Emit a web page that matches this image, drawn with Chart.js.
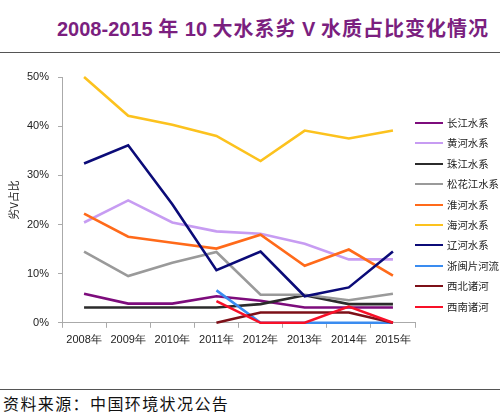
<!DOCTYPE html>
<html>
<head>
<meta charset="utf-8">
<script src="https://cdn.jsdelivr.net/npm/chart.js@4"></script>
<style>
  html, body { margin: 0; padding: 0; background: #fff; }
  body { width: 500px; height: 418px; position: relative; overflow: hidden; }
  #title {
    position: absolute; left: 57px; top: 15px; white-space: nowrap;
    font-family: "Liberation Sans", "Noto Sans CJK SC", sans-serif;
    font-weight: bold; font-size: 20px; line-height: 26px; color: #7b1f7f;
  }
  #title .cn { font-family: "Noto Sans CJK SC", sans-serif; letter-spacing: 1px; }
  #topline { position: absolute; left: 0; top: 52px; width: 500px; height: 1px; background: #555; }
  #chart-wrap { position: absolute; left: 0; top: 53px; width: 500px; height: 336px; }
  #bottomline { position: absolute; left: 0; top: 389px; width: 500px; height: 1px; background: #555; }
  #footer {
    position: absolute; left: 3px; top: 393px; white-space: nowrap;
    font-family: "Noto Sans CJK SC", sans-serif; font-size: 16px; line-height: 20px;
    letter-spacing: 1.4px; color: #111;
  }
  #legend { position: absolute; left: 415px; top: 0; }
  .item { position: absolute; left: 0; height: 14px; white-space: nowrap; }
  .item .sw { position: absolute; left: 0; top: 6px; width: 28px; height: 2px; }
  .item .tx {
    position: absolute; left: 32px; top: -1px;
    font-family: "Noto Sans CJK SC", sans-serif; font-size: 10.4px; line-height: 16px; color: #222;
  }
</style>
</head>
<body>
<div id="title">2008-2015 <span class="cn">年</span> 10 <span class="cn">大水系劣</span> V <span class="cn">水质占比变化情况</span></div>
<div id="topline"></div>
<div id="chart-wrap"><canvas id="chart" width="500" height="336"></canvas></div>
<div id="legend"></div>
<div id="bottomline"></div>
<div id="footer">资料来源：中国环境状况公告</div>
<script>
// categories
const years = ['2008年', '2009年', '2010年', '2011年', '2012年', '2013年', '2014年', '2015年'];

// share of grade V (worse than V) water, percent
const changjiang = [5.9, 3.9, 3.9, 5.4, 4.5, 3.1, 3.1, 3.1];
const huanghe = [20.4, 24.9, 20.4, 18.6, 18.1, 16.1, 12.9, 12.9];
const zhujiang = [3.1, 3.1, 3.1, 3.1, 3.8, 5.6, 3.8, 3.8];
const songhuajiang = [14.5, 9.5, 12.2, 14.4, 5.7, 5.7, 4.6, 5.9];
const huaihe = [22.2, 17.5, 16.3, 15.1, 17.9, 11.6, 14.9, 9.6];
const haihe = [50.0, 42.1, 40.3, 38.0, 32.9, 39.1, 37.5, 39.1];
const liaohe = [32.4, 36.1, 24.1, 10.7, 14.5, 5.4, 7.2, 14.5];
const zhemin = [null, null, null, 6.6, 0, 0, 0, 0];
const xibei = [null, null, null, 0, 2.1, 2.1, 2.1, 0];
const xinan = [null, null, null, 4.4, 0, 0, 3.3, 0];

// y axis ticks
const yTicks = [0, 10, 20, 30, 40, 50];

const seriesNames = ['长江水系', '黄河水系', '珠江水系', '松花江水系', '淮河水系', '海河水系', '辽河水系', '浙闽片河流', '西北诸河', '西南诸河'];
const seriesData = [changjiang, huanghe, zhujiang, songhuajiang, huaihe, haihe, liaohe, zhemin, xibei, xinan];
const seriesColors = ['#7d0c7c', '#c79cf2', '#2b2b2b', '#9a9a9a', '#ff6a1a', '#fcc21e', '#0b0b78', '#3a8cf0', '#7d1018', '#f81028'];

const datasets = seriesNames.map(function(name, i) {
    return {
        label: name,
        data: seriesData[i],
        borderColor: seriesColors[i],
        backgroundColor: seriesColors[i],
        borderWidth: 2.6,
        pointRadius: 0,
        tension: 0,
        clip: false,
        order: seriesNames.length - i
    };
});

// html legend, built from the same names/colours
const legendEl = document.getElementById('legend');
seriesNames.forEach(function(name, i) {
    const item = document.createElement('div');
    item.className = 'item';
    item.style.top = (116 + i * 20.4) + 'px';
    item.innerHTML = '<div class="sw" style="background:' + seriesColors[i] + '"></div><div class="tx">' + name + '</div>';
    legendEl.appendChild(item);
});

const tickFont = { family: '"Liberation Sans", Arial, sans-serif', size: 11 };

new Chart(document.getElementById('chart'), {
    type: 'line',
    data: { labels: years, datasets: datasets },
    options: {
        responsive: false,
        animation: false,
        devicePixelRatio: 1,
        layout: { padding: { top: 24, right: 85, bottom: 36, left: 0 } },
        plugins: {
            legend: { display: false },
            tooltip: { enabled: false }
        },
        scales: {
            x: {
                offset: true,
                grid: { display: true, offset: true, drawOnChartArea: false, tickLength: 5, color: '#aaa' },
                border: { color: '#aaa', width: 1 },
                ticks: { font: tickFont, color: '#222', padding: 6, maxRotation: 0 }
            },
            y: {
                min: 0,
                max: 50,
                afterFit: function(scale) { scale.width = 62; },
                afterBuildTicks: function(scale) {
                    scale.ticks = yTicks.map(function(v) { return { value: v }; });
                },
                grid: { display: true, drawOnChartArea: false, tickLength: 4, color: '#aaa' },
                border: { color: '#aaa', width: 1 },
                ticks: {
                    font: tickFont,
                    color: '#222',
                    padding: 9,
                    callback: function(v) { return v + '%'; }
                },
                title: {
                    display: true,
                    text: '劣V占比',
                    font: { family: '"Noto Sans CJK SC", sans-serif', size: 11 },
                    color: '#222',
                    padding: { top: 7, bottom: 0 }
                }
            }
        }
    }
});
</script>
</body>
</html>
